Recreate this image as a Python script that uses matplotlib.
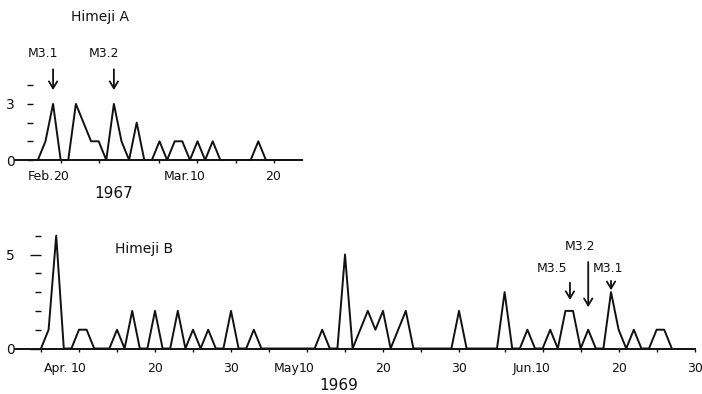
import matplotlib.pyplot as plt

# Himeji A, 1967 - daily counts, day 0 = Feb 20
a_days = list(range(-3, 32))
a_counts = [0, 1, 3, 0, 0, 3, 2, 1, 1, 0, 3, 1, 0, 2, 0, 0, 1, 0, 1, 1,
            0, 1, 0, 1, 0, 0, 0, 0, 0, 1, 0, 0, 0, 0, 0]
a_ticks = [0, 5, 13, 18, 23, 28]
a_ticklabels = ['20', '', '', '10', '', '20']
a_months = {0: 'Feb.', 18: 'Mar.'}
a_quakes = [(-1, 'M3.1'), (7, 'M3.2')]

# Himeji B, 1969 - daily counts, day 0 = Apr 1
b_days = list(range(4, 88))
b_counts = [0, 1, 6, 0, 0, 1, 1, 0, 0, 0,
            1, 0, 2, 0, 0, 2, 0, 0, 2, 0,
            1, 0, 1, 0, 0, 2, 0, 0, 1, 0,
            0, 0, 0, 0, 0, 0, 0, 1, 0, 0,
            5, 0, 1, 2, 1, 2, 0, 1, 2, 0,
            0, 0, 0, 0, 0, 2, 0, 0, 0, 0,
            0, 3, 0, 0, 1, 0, 0, 1, 0, 2,
            2, 0, 1, 0, 0, 3, 1, 0, 1, 0,
            0, 1, 1, 0]
b_ticks = [4, 9, 14, 19, 24, 29, 34, 39, 44, 49, 54, 59, 65, 70, 75, 80, 85, 90]
b_ticklabels = ['', '10', '', '20', '', '30', '', '10', '', '20', '', '30',
                '', '10', '', '20', '', '30']
b_months = {9: 'Apr.', 39: 'May', 70: 'Jun.'}

W, H = 702, 394
fig = plt.figure(figsize=(W / 100, H / 100), dpi=100)
lw = 1.4
k = '#111111'

axA = fig.add_axes([33 / W, 1 - 160 / H, 269.4 / W, 74.8 / H])
axB = fig.add_axes([41 / W, 1 - 348.5 / H, 654 / W, 112.8 / H])


def style(ax, xlim, ylim, left_px, xpad, ticks, labels):
    ax.set_xlim(*xlim)
    ax.set_ylim(*ylim)
    for s in ax.spines.values():
        s.set_visible(False)
    width_px = ax.get_position().width * W
    ax.axhline(0, xmin=-(left_px - 15) / width_px, xmax=1, color=k, lw=lw,
               clip_on=False, zorder=3)
    ax.set_xticks(ticks)
    ax.set_xticklabels(labels)
    ax.tick_params(axis='x', direction='out', length=2.5, width=1.0,
                   pad=xpad, labelsize=9, colors=k)


# ---- Himeji A ----
axA.plot(a_days, a_counts, color=k, lw=lw, clip_on=False)
style(axA, (-3.64, 31.8), (0, 4), 33, 5, a_ticks, a_ticklabels)
axA.set_yticks([0, 3])
axA.set_yticklabels(['0', '3'])
axA.set_yticks([1, 2, 4], minor=True)
axA.tick_params(axis='y', which='both', direction='out', length=4.3,
                width=1.0, pad=8.6, labelsize=10, colors=k)
for d, m in a_months.items():
    axA.annotate(m, xy=(d, 0), xytext=(-7, -10), textcoords='offset pixels',
                 ha='right', va='top', fontsize=9, color=k)
for d, lab in a_quakes:
    axA.annotate('', xy=(d, 3.74), xytext=(d, 4.85),
                 arrowprops=dict(arrowstyle='->,head_length=0.5,head_width=0.3',
                                 lw=1.3, color=k, mutation_scale=10,
                                 shrinkA=0, shrinkB=0), annotation_clip=False)
    axA.text(d - 1.3, 5.67, lab, ha='center', va='center', fontsize=9,
             color=k, clip_on=False)

# ---- Himeji B ----
axB.plot(b_days, b_counts, color=k, lw=lw, clip_on=False)
style(axB, (4, 90.05), (0, 6), 41, 7.5, b_ticks, b_ticklabels)
axB.set_yticks([0, 5])
axB.set_yticklabels(['0', '5'])
axB.set_yticks([1, 2, 3, 4, 6], minor=True)
axB.tick_params(axis='y', which='major', direction='out', length=7.9,
                width=1.0, pad=10.8, labelsize=10, colors=k)
axB.tick_params(axis='y', which='minor', direction='out', length=4.3,
                width=1.0, colors=k)
for d, m in b_months.items():
    off = -11 if m == 'Apr.' else -7
    axB.annotate(m, xy=(d, 0), xytext=(off, -13.5), textcoords='offset pixels',
                 ha='right', va='top', fontsize=9, color=k)

arrow = dict(arrowstyle='->,head_length=0.5,head_width=0.3', lw=1.3, color=k,
             mutation_scale=10, shrinkA=0, shrinkB=0)
axB.annotate('', xy=(76, 2.2), xytext=(76, 4.6), arrowprops=arrow,
             annotation_clip=False)
axB.annotate('', xy=(73.6, 2.58), xytext=(73.6, 3.5), arrowprops=arrow,
             annotation_clip=False)
axB.annotate('', xy=(79, 3.1), xytext=(79, 3.6), arrowprops=arrow,
             annotation_clip=False)
axB.text(74.9, 5.4, 'M3.2', ha='center', va='center', fontsize=9, color=k)
axB.text(71.2, 4.28, 'M3.5', ha='center', va='center', fontsize=9, color=k)
axB.text(78.6, 4.28, 'M3.1', ha='center', va='center', fontsize=9, color=k)

fig.text(100 / W, 1 - 17 / H, 'Himeji A', ha='center', va='center',
         fontsize=10, color=k)
fig.text(144 / W, 1 - 249 / H, 'Himeji B', ha='center', va='center',
         fontsize=10, color=k)
fig.text(114 / W, 1 - 193 / H, '1967', ha='center', va='center',
         fontsize=11, color=k)
fig.text(339 / W, 1 - 386 / H, '1969', ha='center', va='center',
         fontsize=11, color=k)

fig.savefig('out.png', dpi=100)
